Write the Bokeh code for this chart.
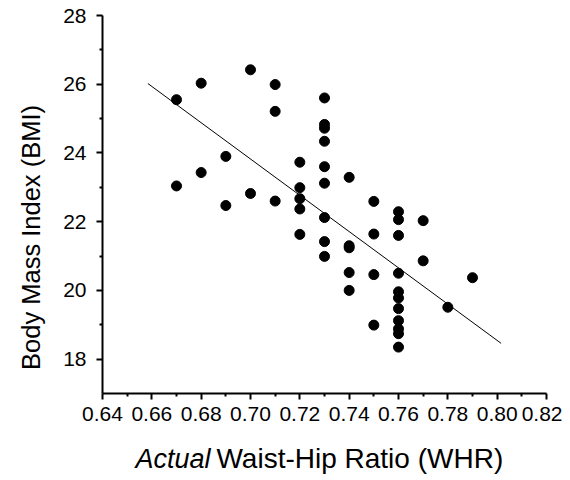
import math
from bokeh.plotting import figure
from bokeh.models import FixedTicker, Range1d
from bokeh.layouts import column, row
from bokeh.core.properties import value
from bokeh.embed import file_html
from bokeh.resources import INLINE

# Data
whr = [0.67, 0.67,
       0.68, 0.68,
       0.69, 0.69,
       0.70, 0.70,
       0.71, 0.71, 0.71,
       0.72, 0.72, 0.72, 0.72, 0.72,
       0.73, 0.73, 0.73, 0.73, 0.73, 0.73, 0.73, 0.73, 0.73,
       0.74, 0.74, 0.74, 0.74, 0.74,
       0.75, 0.75, 0.75, 0.75,
       0.76, 0.76, 0.76, 0.76, 0.76, 0.76, 0.76, 0.76, 0.76, 0.76, 0.76,
       0.77, 0.77,
       0.78,
       0.79]
bmi = [25.55, 23.04,
       26.03, 23.43,
       23.90, 22.47,
       26.42, 22.82,
       25.99, 25.21, 22.60,
       23.73, 22.99, 22.67, 22.37, 21.63,
       25.60, 24.83, 24.72, 24.34, 23.60, 23.12, 22.12, 21.42, 20.99,
       23.29, 21.30, 21.24, 20.52, 20.00,
       22.59, 21.64, 20.46, 18.99,
       22.29, 22.06, 21.60, 20.50, 19.96, 19.78, 19.47, 19.12, 18.88, 18.74, 18.35,
       22.03, 20.86,
       19.51,
       20.37]

# Regression line end points
fit_x = [0.6584, 0.8016]
fit_y = [26.02, 18.46]

x_ticks = [0.64, 0.66, 0.68, 0.70, 0.72, 0.74, 0.76, 0.78, 0.80, 0.82]
x_minor = [0.65, 0.67, 0.69, 0.71, 0.73, 0.75, 0.77, 0.79, 0.81]
y_ticks = [18, 20, 22, 24, 26, 28]
y_minor = [19, 21, 23, 25, 27]

y_title = "Body Mass Index (BMI)"
x_title_italic = "Actual"
x_title_rest = "Waist-Hip Ratio (WHR)"

FONT = "Liberation Sans"
LW = 50          # width of the strip holding the y title
PW = 512         # width of the main plot
PH = 435         # height of the main plot
TH = 45          # height of the strip holding the x title
B_L, B_R, B_T = 102 - LW, 16, 15
B_B = PH - 393

x_range = Range1d(0.64, 0.82)
y_range = Range1d(17, 28)

p = figure(width=PW, height=PH, output_backend="svg", toolbar_location=None,
           x_range=x_range, y_range=y_range,
           min_border_left=B_L, min_border_right=B_R, min_border_top=B_T,
           min_border_bottom=B_B)
p.outline_line_color = None
p.xgrid.visible = False
p.ygrid.visible = False
p.background_fill_color = "white"
p.border_fill_color = "white"

p.line(fit_x, fit_y, line_color="black", line_width=1)
p.scatter(whr, bmi, size=10, fill_color="black", line_color="black")

p.xaxis.ticker = FixedTicker(ticks=x_ticks, minor_ticks=x_minor)
p.yaxis.ticker = FixedTicker(ticks=y_ticks, minor_ticks=y_minor)
p.xaxis.major_label_overrides = {t: f"{t:.2f}" for t in x_ticks}

for ax in (p.xaxis[0], p.yaxis[0]):
    ax.axis_line_color = "black"
    ax.axis_line_width = 2
    ax.major_tick_line_color = "black"
    ax.major_tick_line_width = 2
    ax.minor_tick_line_color = "black"
    ax.minor_tick_line_width = 2
    ax.major_tick_in = 0
    ax.major_tick_out = 6
    ax.minor_tick_in = 0
    ax.minor_tick_out = 3
    ax.major_label_text_font = FONT
    ax.major_label_text_font_size = "21px"
    ax.major_label_text_color = "black"

p.xaxis.major_label_standoff = 7
p.yaxis.major_label_standoff = 10


def strip(w, h, xr, yr, bl, br, bt, bb):
    f = figure(width=w, height=h, output_backend="svg", toolbar_location=None,
               x_range=xr, y_range=yr, x_axis_location=None, y_axis_location=None,
               min_border_left=bl, min_border_right=br, min_border_top=bt,
               min_border_bottom=bb)
    f.grid.visible = False
    f.outline_line_color = None
    f.background_fill_color = "white"
    f.border_fill_color = "white"
    return f


# Left strip: y-axis title (shares the plot's y scale, frame lined up with it)
ys = strip(LW, PH + TH, Range1d(0, LW), y_range, 0, 0, B_T, B_B + TH)
ys.text(x=[30], y=[21.54], text=[y_title], text_font=value(FONT),
        text_font_size="25.5px", text_align="center", text_baseline="middle",
        angle=math.pi / 2, text_color="black")

# Bottom strip: x-axis title (mixed italic / roman), shares the plot's x scale
xs = strip(PW, TH, x_range, Range1d(0, TH), B_L, B_R, 0, 0)
xs.text(x=[0.6838], y=[22], text=[x_title_italic], text_font=value(FONT),
        text_font_size="27px", text_font_style="italic", text_align="right",
        text_baseline="alphabetic", text_color="black")
xs.text(x=[0.6862], y=[22], text=[x_title_rest], text_font=value(FONT),
        text_font_size="28px", text_align="left",
        text_baseline="alphabetic", text_color="black")

layout = row(ys, column(p, xs, spacing=0), spacing=0)
open("out.html", "w").write(file_html(layout, INLINE))
